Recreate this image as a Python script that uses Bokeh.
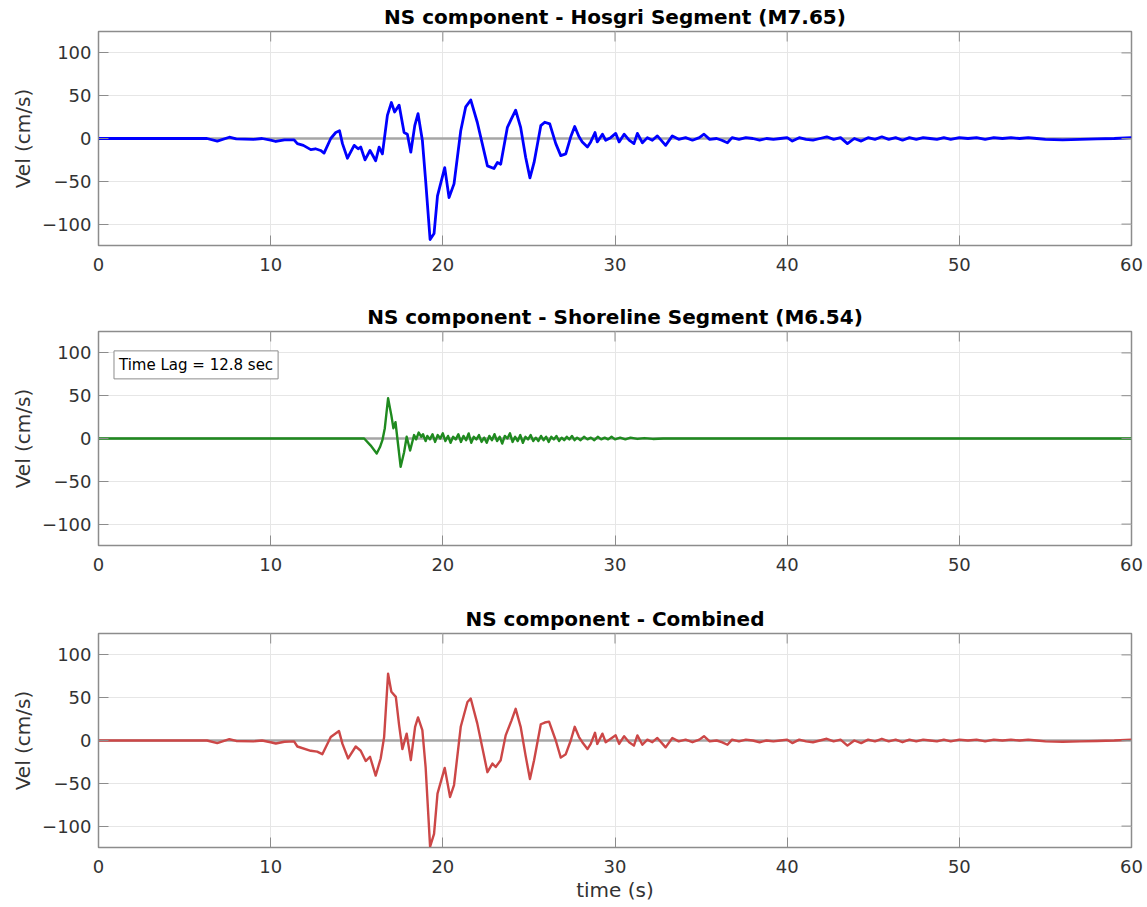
import math

from bokeh.plotting import figure
from bokeh.layouts import column
from bokeh.models import FixedTicker, Span, Label, Range1d
from bokeh.embed import file_html
from bokeh.resources import INLINE

# ---- NS velocity time histories (time in s, velocity in cm/s) ----
hosgri_t = [0, 6.3, 6.9, 7.6, 8.0, 9.0, 9.5, 10.0, 10.3, 10.8, 11.36, 11.55, 11.9, 12.33, 12.6, 12.9,
            13.1, 13.49, 13.78, 14.0, 14.17, 14.46, 14.85, 15.08, 15.23, 15.48, 15.77, 15.91, 16.1,
            16.3, 16.49, 16.78, 17.01, 17.2, 17.46, 17.75, 17.94, 18.14, 18.37, 18.56, 18.81, 19.0,
            19.26, 19.49, 19.69, 20.11, 20.36, 20.65, 21.04, 21.33, 21.62, 22.0, 22.59, 22.97, 23.17,
            23.36, 23.75, 23.98, 24.23, 24.52, 24.81, 25.06, 25.3, 25.69, 25.92, 26.21, 26.56, 26.85,
            27.14, 27.43, 27.66, 27.91, 28.1, 28.4, 28.59, 28.84, 28.97, 29.27, 29.46, 29.75, 30.04,
            30.24, 30.53, 30.82, 31.1, 31.3, 31.59, 31.88, 32.17, 32.46, 32.94, 33.33, 33.7, 34.1,
            34.5, 34.9, 35.17, 35.5, 35.9, 36.2, 36.53, 36.8, 37.2, 37.6, 38.0, 38.4, 38.8, 39.2,
            39.6, 40.0, 40.3, 40.7, 41.1, 41.5, 41.9, 42.3, 42.7, 43.1, 43.5, 43.9, 44.3, 44.7, 45.1,
            45.5, 45.9, 46.3, 46.7, 47.1, 47.5, 47.9, 48.3, 48.7, 49.1, 49.5, 50.0, 50.5, 51.0, 51.5,
            52.0, 52.5, 53.0, 53.5, 54.0, 54.5, 55.0, 56.0, 57.0, 58.0, 59.0, 60.0]
hosgri_v = [0, 0, -3, 1.5, -0.5, -1, 0, -2, -3.5, -1.5, -1.5, -6, -8, -13, -12, -14,
            -17, 0, 7, 9, -6, -23, -8, -12, -10, -25, -14, -19, -26,
            -10, -18, 27, 42, 31, 39, 7, 5, -16, 15, 29, -2, -49,
            -118, -111, -67, -34, -69, -53, 9, 37, 45, 19, -32, -35, -28,
            -30, 13, 23, 33, 13, -22, -46, -28, 15, 19, 17, -6, -20,
            -18, 2, 14, 2, -4, -10, -4, 7, -4, 5, -2, 1, 6,
            -4, 5, -2, -6, 6, -5, 1, -2, 3, -8, 3, -1, 1,
            -2, 1, 5, -1, 0, -2, -5, 1, -1, 1, 0, -2, 0, -1,
            0, 1, -3, 1, -1, -2, 0, 2, -1, 1, -6, 0, -3, 1, -1,
            2, -1, 1, -2, 1, -1, 1, 0, -1, 1, -1, 1, 0, 1, -1,
            1, 0, 1, 0, 1, 0, -1, -1.5, -1, -0.5, 0, 1]

shoreline_t = [0, 15.43, 15.8, 16.16, 16.35, 16.49, 16.63, 16.82, 17.01, 17.13, 17.25, 17.36, 17.55,
               17.75, 17.9, 18.1, 18.33, 18.45, 18.6, 18.75, 18.85, 19.0, 19.1, 19.25, 19.4, 19.55,
               19.7, 19.85, 20.0, 20.15, 20.3, 20.45, 20.6, 20.75, 20.9, 21.05, 21.2, 21.35, 21.5,
               21.65, 21.8, 21.95, 22.1, 22.25, 22.4, 22.55, 22.7, 22.85, 23.0, 23.15, 23.3, 23.45,
               23.6, 23.75, 23.9, 24.05, 24.2, 24.35, 24.5, 24.65, 24.8, 24.95, 25.1, 25.25, 25.4,
               25.55, 25.7, 25.85, 26.0, 26.15, 26.3, 26.45, 26.6, 26.75, 26.9, 27.05, 27.2, 27.35,
               27.5, 27.65, 27.8, 28.0, 28.2, 28.4, 28.6, 28.8, 29.0, 29.2, 29.4, 29.6, 29.8, 30.0,
               30.3, 30.6, 30.9, 31.3, 31.7, 32.2, 32.8, 60.0]
shoreline_v = [0, 0, -8, -17.5, -10, -2, 12, 47, 27, 12, 19, 0, -33,
               -16, 2, -14, 4, -1, 7, 2, 5, -3, 3, -1, 5, -4,
               4, 0, 6, -3, 3, -5, 2, -1, 5, -4, 3, -2, 6,
               -5, 2, -1, 4, -4, 1, -5, 3, -2, 5, -3, 2, -6,
               3, 0, 6, -4, 2, -3, 4, -5, 2, -1, 4, -3, 1,
               -3, 3, -2, 2, -4, 2, -1, 3, -3, 1, -2, 2, -1,
               3, -2, 1, -2, 2, -1, 1, -2, 2, -1, 1, -1, 2, -1,
               1, -1, 1, -0.5, 0.5, -0.5, 0, 0]

combined_t = [0, 6.3, 6.9, 7.6, 8.0, 9.0, 9.5, 10.0, 10.3, 10.8, 11.36, 11.55, 12.33, 12.7, 13.0,
              13.49, 13.97, 14.17, 14.5, 14.94, 15.23, 15.52, 15.77, 16.1, 16.39, 16.59, 16.82,
              17.01, 17.27, 17.46, 17.65, 17.9, 18.14, 18.39, 18.56, 18.81, 19.0, 19.26, 19.49,
              19.69, 20.11, 20.42, 20.65, 21.04, 21.43, 21.62, 22.0, 22.59, 22.88, 23.07, 23.36,
              23.65, 23.98, 24.23, 24.52, 24.81, 25.06, 25.3, 25.69, 25.92, 26.17, 26.56, 26.85,
              27.14, 27.43, 27.66, 27.91, 28.1, 28.4, 28.59, 28.84, 28.97, 29.27, 29.46, 29.75,
              30.04, 30.24, 30.53, 30.82, 31.1, 31.3, 31.59, 31.88, 32.17, 32.46, 32.94, 33.33,
              33.7, 34.1, 34.5, 34.9, 35.17, 35.5, 35.9, 36.2, 36.53, 36.8, 37.2, 37.6, 38.0, 38.4,
              38.8, 39.2, 39.6, 40.0, 40.3, 40.7, 41.1, 41.5, 41.9, 42.3, 42.7, 43.1, 43.5, 43.9,
              44.3, 44.7, 45.1, 45.5, 45.9, 46.3, 46.7, 47.1, 47.5, 47.9, 48.3, 48.7, 49.1, 49.5,
              50.0, 50.5, 51.0, 51.5, 52.0, 52.5, 53.0, 53.5, 54.0, 54.5, 55.0, 56.0, 57.0, 58.0,
              59.0, 60.0]
combined_v = [0, 0, -3, 1.5, -0.5, -1, 0, -2, -3.5, -1.5, -1, -7, -12, -13, -16,
              4, 11, -4, -21, -7, -12, -24, -19, -41, -21, 4, 78,
              57, 51, 18, -10, 8, -23, 16, 27, 12, -31, -124, -109,
              -62, -32, -66, -52, 16, 45, 49, 20, -37, -27, -31, -23,
              6, 23, 37, 16, -18, -45, -23, 19, 21, 22, 0, -20,
              -16, 0, 16, 4, -2, -10, -4, 9, -4, 8, -2, 2,
              6, -4, 5, -2, -6, 6, -5, 1, -2, 3, -8, 3,
              -1, 1, -2, 1, 5, -1, 0, -2, -5, 1, -1, 1, 0, -2,
              0, -1, 0, 1, -3, 1, -1, -2, 0, 2, -1, 1, -6, 0,
              -3, 1, -1, 2, -1, 1, -2, 1, -1, 1, 0, -1, 1, -1,
              1, 0, 1, -1, 1, 0, 1, 0, 1, 0, -1, -1.5, -1, -0.5,
              0, 1]

panel_titles = ["NS component - Hosgri Segment (M7.65)",
                "NS component - Shoreline Segment (M6.54)",
                "NS component - Combined"]
line_colors = ["#0000ff", "#1f8a1f", "#cc4747"]
line_widths = [2.8, 2.4, 2.4]

X_MIN, X_MAX = 0, 60
Y_MIN, Y_MAX = -125, 125
x_ticks = [0, 10, 20, 30, 40, 50, 60]
y_ticks = [-100, -50, 0, 50, 100]
y_tick_labels = {-100: "\u2212100", -50: "\u221250", 0: "0", 50: "50", 100: "100"}

lag_note = "Time Lag = 12.8 sec"

FONT = "DejaVu Sans"
EDGE = "#8c8c8c"
TICK_TEXT = "#333333"


def make_panel(title, t, v, color, lw, height, top, bottom, xlabel=None):
    p = figure(width=1147, height=height, output_backend="svg", toolbar_location=None,
               x_range=Range1d(X_MIN, X_MAX), y_range=Range1d(Y_MIN, Y_MAX),
               min_border_left=98, min_border_right=16,
               min_border_top=top, min_border_bottom=bottom)
    p.title.text = title
    p.title.align = "center"
    p.title.text_font = FONT
    p.title.text_font_size = "20px"
    p.title.text_font_style = "bold"
    p.title.text_color = "#000000"
    p.title.standoff = 5

    p.outline_line_color = EDGE
    p.outline_line_width = 1.5
    p.background_fill_color = "white"
    p.border_fill_color = "white"

    p.xaxis.ticker = FixedTicker(ticks=x_ticks)
    p.yaxis.ticker = FixedTicker(ticks=y_ticks)
    p.yaxis.major_label_overrides = y_tick_labels
    for ax in (p.xaxis, p.yaxis):
        ax.major_tick_in = 10
        ax.major_tick_out = 0
        ax.minor_tick_in = 0
        ax.minor_tick_out = 0
        ax.major_tick_line_color = EDGE
        ax.axis_line_color = EDGE
        ax.major_label_text_font = FONT
        ax.major_label_text_font_size = "18px"
        ax.major_label_text_color = TICK_TEXT
        ax.axis_label_text_font = FONT
        ax.axis_label_text_font_size = "20px"
        ax.axis_label_text_font_style = "normal"
        ax.axis_label_text_color = TICK_TEXT
    p.xaxis.major_label_standoff = 12
    p.yaxis.major_label_standoff = 7
    p.yaxis.axis_label = "Vel (cm/s)"
    p.yaxis.axis_label_standoff = 4
    if xlabel:
        p.xaxis.axis_label = xlabel
        p.xaxis.axis_label_standoff = 2

    p.grid.grid_line_color = "#e6e6e6"
    p.grid.grid_line_width = 1

    p.add_layout(Span(location=0, dimension="width", line_color="#a6a6a6",
                      line_width=2.5, level="underlay"))
    p.line(t, v, line_color=color, line_width=lw, line_join="round")

    # inward tick marks along the top and right edges of the box (clipped to the frame)
    p.scatter(x=x_ticks, y=[Y_MAX] * len(x_ticks), marker="dash", size=20, angle=math.pi / 2,
              line_color=EDGE, line_width=1)
    p.scatter(x=[X_MAX] * len(y_ticks), y=y_ticks, marker="dash", size=20,
              line_color=EDGE, line_width=1)
    return p


p1 = make_panel(panel_titles[0], hosgri_t, hosgri_v, line_colors[0], line_widths[0], 300, 31, 55)
p2 = make_panel(panel_titles[1], shoreline_t, shoreline_v, line_colors[1], line_widths[1], 301, 31, 56)
p3 = make_panel(panel_titles[2], combined_t, combined_v, line_colors[2], line_widths[2], 306, 32, 60,
                xlabel="time (s)")

p2.add_layout(Label(x=0.9, y=86, text=lag_note, text_align="left", text_baseline="middle",
                    text_font=FONT, text_font_size="15px", text_color="#000000",
                    border_line_color="#8c8c8c", border_line_width=1,
                    background_fill_color="white", padding=5))

layout = column(p1, p2, p3, spacing=0)
open("out.html", "w").write(file_html(layout, INLINE))
